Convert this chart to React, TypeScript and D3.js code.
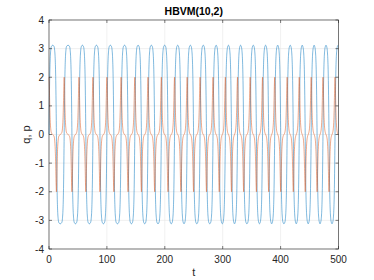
import * as d3 from 'd3';
import React from 'react';

// axis ticks
const tTicks = [0, 100, 200, 300, 400, 500];
const yTicks = [-4, -3, -2, -1, 0, 1, 2, 3, 4];

// times where q crosses zero (alternating: up, down, up, ...)
const crossTimes = [
  0, 12.8, 26.2, 39.6, 51.8, 63.6, 75.9, 88.0, 100.0, 112.0, 124.5, 136.5,
  148.2, 159.6, 171.0, 182.5, 194.0, 205.5, 216.8, 227.8, 238.6, 249.7, 260.9,
  272.0, 283.3, 294.0, 304.6, 315.2, 325.6, 336.2, 347.4, 358.2, 368.8, 379.4,
  389.8, 400.2, 411.3, 421.9, 432.2, 442.5, 452.8, 463.0, 473.2, 483.6, 494.0,
  504.3,
];

// q near a crossing: [time after crossing, |q|]
const qEdge = [[0, 0], [0.5, 0.96], [1, 1.73], [1.5, 2.26], [2, 2.6], [3, 2.94], [4, 3.07]];
const qTop = 3.12;

// p spike around a crossing: [time from crossing, |p|]
const pSpike = [[0, 2], [0.5, 1.77], [1, 1.3], [1.5, 0.85], [2, 0.53], [3, 0.2], [4, 0.07]];

const tEnd = 500;

function buildQ() {
  const pts: [number, number][] = [];
  for (let i = 0; i < crossTimes.length - 1; i++) {
    const a = crossTimes[i];
    const b = crossTimes[i + 1];
    const s = i % 2 === 0 ? 1 : -1;
    qEdge.forEach(([dt, v]) => pts.push([a + dt, s * v]));
    pts.push([(a + b) / 2, s * qTop]);
    qEdge.slice(1).reverse().forEach(([dt, v]) => pts.push([b - dt, s * v]));
  }
  pts.push([crossTimes[crossTimes.length - 1], 0]);
  return pts.filter((d) => d[0] <= tEnd);
}

function buildP() {
  const pts: [number, number][] = [];
  crossTimes.forEach((c, i) => {
    const s = i % 2 === 0 ? 1 : -1;
    if (i > 0) {
      pts.push([(crossTimes[i - 1] + c) / 2, 0]);
      pSpike.slice(1).reverse().forEach(([dt, v]) => pts.push([c - dt, s * v]));
    }
    pSpike.forEach(([dt, v]) => pts.push([c + dt, s * v]));
  });
  return pts.filter((d) => d[0] <= tEnd);
}

export default function App() {
  const width = 374;
  const height = 280;
  const marginLeft = 49;
  const marginRight = 35.5;
  const marginTop = 20;
  const marginBottom = 31;

  const x = d3.scaleLinear().domain([0, 500]).range([marginLeft, width - marginRight]);
  const y = d3.scaleLinear().domain([-4, 4]).range([height - marginBottom, marginTop]);

  const line = d3.line<[number, number]>()
    .x((d) => x(d[0]))
    .y((d) => y(d[1]))
    .curve(d3.curveMonotoneX);

  const qPath = line(buildQ()) || '';
  const pPath = line(buildP()) || '';

  const x0 = x(0), x1 = x(500), y0 = y(-4), y1 = y(4);
  const tick = 3;
  const font = 'Liberation Sans, Arial, Helvetica, sans-serif';
  const axisColor = '#262626';

  return (
    <svg width={width} height={height} viewBox={`0 0 ${width} ${height}`}
      style={{ position: 'absolute', left: 0, top: 0, background: '#fff' }}>
      <rect x={0} y={0} width={width} height={height} fill="#fff" />
      {/* grid */}
      <g stroke="#e6e6e6" strokeWidth={0.6}>
        {tTicks.map((t) => <line key={'gx' + t} x1={x(t)} x2={x(t)} y1={y0} y2={y1} />)}
        {yTicks.map((v) => <line key={'gy' + v} x1={x0} x2={x1} y1={y(v)} y2={y(v)} />)}
      </g>
      {/* series */}
      <path d={qPath} fill="none" stroke="#0072BD" strokeWidth={0.5} />
      <path d={pPath} fill="none" stroke="#D95319" strokeWidth={0.5} />
      {/* box and ticks */}
      <g stroke={axisColor} strokeWidth={0.6} fill="none">
        <rect x={x0} y={y1} width={x1 - x0} height={y0 - y1} />
        {tTicks.map((t) => (
          <g key={'tx' + t}>
            <line x1={x(t)} x2={x(t)} y1={y0} y2={y0 - tick} />
            <line x1={x(t)} x2={x(t)} y1={y1} y2={y1 + tick} />
          </g>
        ))}
        {yTicks.map((v) => (
          <g key={'ty' + v}>
            <line x1={x0} x2={x0 + tick} y1={y(v)} y2={y(v)} />
            <line x1={x1} x2={x1 - tick} y1={y(v)} y2={y(v)} />
          </g>
        ))}
      </g>
      {/* tick labels */}
      <g fontFamily={font} fontSize={10} fill={axisColor}>
        {tTicks.map((t) => (
          <text key={'lx' + t} x={x(t)} y={y0 + 13.5} textAnchor="middle">{t}</text>
        ))}
        {yTicks.map((v) => (
          <text key={'ly' + v} x={x0 - 5} y={y(v) + 3.5} textAnchor="end">{v}</text>
        ))}
      </g>
      {/* labels */}
      <text x={(x0 + x1) / 2} y={15} textAnchor="middle" fontFamily={font} fontSize={10.5}
        fontWeight="bold" fill="#000">HBVM(10,2)</text>
      <text x={(x0 + x1) / 2} y={y0 + 27} textAnchor="middle" fontFamily={font} fontSize={11}
        fill={axisColor}>t</text>
      <text transform={`translate(30,${(y0 + y1) / 2}) rotate(-90)`} textAnchor="middle"
        fontFamily={font} fontSize={11} fill={axisColor}>q, p</text>
    </svg>
  );
}
